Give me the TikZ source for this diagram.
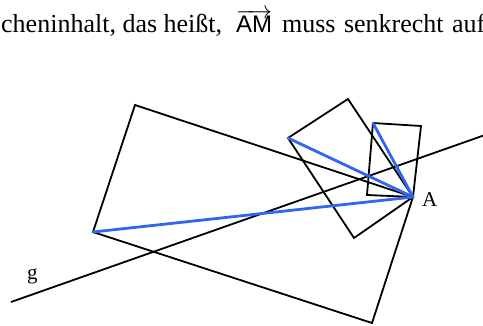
\documentclass[tikz,border=0pt]{standalone}
\usepackage{fontspec}
\setmainfont{Liberation Serif}
\setsansfont{Liberation Sans}
\usetikzlibrary{positioning}
\definecolor{rcBlue}{HTML}{3366F0}
\newcommand{\vecAM}{{\fontsize{24}{28}\selectfont\setbox0\hbox{\sffamily AM}%
  \vbox{\offinterlineskip\hbox to\wd0{\rightarrowfill}\kern-2.5pt\box0}}}
\tikzset{
  edge/.style={draw=black, line width=1.8pt, line join=miter},
  diag/.style={draw=rcBlue, line width=2.8pt, line cap=round},
  lbl/.style={font=\fontsize{21}{25}\selectfont, inner sep=0pt},
  caption/.style={font=\fontsize{26}{30}\selectfont, inner sep=0pt},
}

\begin{document}
\begin{tikzpicture}[x=1pt, y=-1pt]
  \useasboundingbox (0,0) rectangle (483,326);
  \clip (0,0) rectangle (483,326);

  % caption line, cut off at both sides
  \node[caption, anchor=base west] (cap) at (1,33)
    {cheninhalt, das heißt,\hspace{14pt}\vecAM\hspace{10pt}muss\hspace{8.5pt}senkrecht\hspace{8.5pt}auf};

  % common corner
  \coordinate (A) at (413,197);

  % large rectangle
  \coordinate (r1) at (135,105);
  \coordinate (r2) at (93,232);
  \coordinate (r3) at (372,323);
  % square
  \coordinate (s1) at (288,138);
  \coordinate (s2) at (348,99);
  \coordinate (s3) at (354,238);
  % small rectangle
  \coordinate (t1) at (373,123);
  \coordinate (t2) at (421,126);
  \coordinate (t3) at (367,195);

  % line g
  \coordinate (g1) at (11,302);
  \coordinate (g2) at (485,135);

  \draw[edge] (A) -- (r1) -- (r2) -- (r3) -- cycle;
  \draw[edge] (A) -- (s3) -- (s1) -- (s2) -- cycle;
  \draw[edge] (A) -- (t3) -- (t1) -- (t2) -- cycle;
  \draw[edge] (g1) -- (g2);

  \draw[diag] (A) -- (r2);
  \draw[diag] (A) -- (s1);
  \draw[diag] (A) -- (t1);

  \node[lbl, anchor=base west] (lA) at (422,207) {A};
  \node[lbl, anchor=base west] (lg) at (27,280) {g};
\end{tikzpicture}
\end{document}
